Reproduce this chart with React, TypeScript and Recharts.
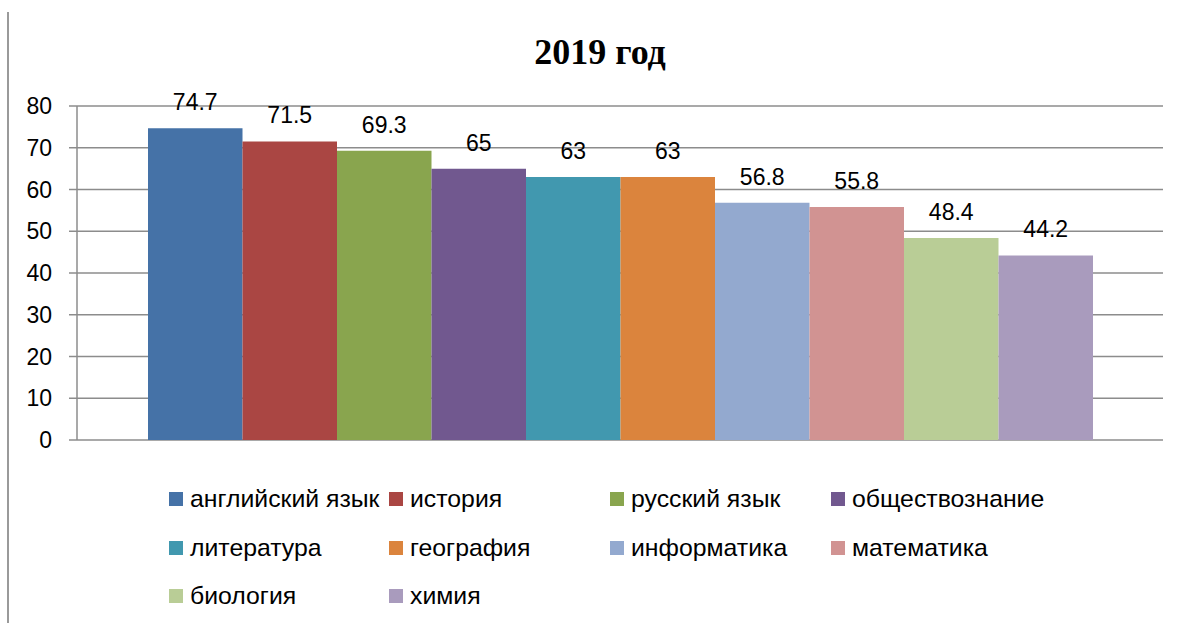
import {
  BarChart,
  Bar,
  XAxis,
  YAxis,
  CartesianGrid,
  LabelList,
} from "recharts";

const title = "2019 год";
const subjects = [
  "английский язык",
  "история",
  "русский язык",
  "обществознание",
  "литература",
  "география",
  "информатика",
  "математика",
  "биология",
  "химия",
];
const scores = [74.7, 71.5, 69.3, 65, 63, 63, 56.8, 55.8, 48.4, 44.2];
const colors = [
  "#4572A7",
  "#AA4643",
  "#89A54E",
  "#71588F",
  "#4198AF",
  "#DB843D",
  "#93A9CF",
  "#D19392",
  "#B9CD96",
  "#A99BBD",
];
const yTicks = [0, 10, 20, 30, 40, 50, 60, 70, 80];

const FONT = "'Liberation Sans', Arial, sans-serif";
const GRID = "#8c8c8c";

// one category, one key per subject
const row: Record<string, string | number> = { name: "2019" };
subjects.forEach((_, i) => {
  row[`s${i}`] = scores[i];
});
const data = [row];

const legendCols = [169, 389, 610, 831];
const legendRows = [499, 548, 596];

function ChartLegend() {
  return (
    <>
      {subjects.map((name, i) => (
        <div
          key={name}
          style={{
            position: "absolute",
            left: legendCols[i % 4],
            top: legendRows[Math.floor(i / 4)] - 15,
            height: 30,
            display: "flex",
            alignItems: "center",
            fontFamily: FONT,
            fontSize: 24.8,
            color: "#000",
            whiteSpace: "nowrap",
          }}
        >
          <span
            style={{
              width: 14,
              height: 14,
              background: colors[i],
              marginRight: 7,
              display: "inline-block",
            }}
          />
          {name}
        </div>
      ))}
    </>
  );
}

export default function App() {
  return (
    <div
      style={{
        position: "absolute",
        left: 0,
        top: 0,
        width: 1180,
        height: 623,
        background: "#fff",
        overflow: "hidden",
      }}
    >
      <div
        style={{
          position: "absolute",
          left: 7,
          top: 12,
          width: 2,
          height: 640,
          background: "#9a9a9a",
        }}
      />
      <div
        style={{
          position: "absolute",
          left: 0,
          top: 30,
          width: 1200,
          textAlign: "center",
          fontFamily: "'Liberation Serif', 'Times New Roman', serif",
          fontWeight: "bold",
          fontSize: 36,
          lineHeight: "44px",
          color: "#000",
        }}
      >
        {title}
      </div>
      <div style={{ position: "absolute", left: 0, top: 0 }}>
        <BarChart
          width={1180}
          height={460}
          data={data}
          margin={{ top: 106, right: 17, left: 0, bottom: 10 }}
          barSize={94.5}
          barGap={0}
        >
          <CartesianGrid
            horizontal
            vertical={false}
            stroke={GRID}
            strokeWidth={1.5}
          />
          <XAxis dataKey="name" hide />
          <XAxis
            xAxisId="num"
            type="number"
            domain={[0, 1]}
            ticks={[0, 1]}
            height={10}
            tickSize={8}
            tickFormatter={() => ""}
            axisLine={{ stroke: GRID, strokeWidth: 1.5 }}
            tickLine={{ stroke: GRID, strokeWidth: 1.5 }}
          />
          <YAxis
            width={77}
            domain={[0, 80]}
            ticks={yTicks}
            interval={0}
            tickSize={8}
            tickMargin={17}
            axisLine={{ stroke: GRID, strokeWidth: 1.5 }}
            tickLine={{ stroke: GRID, strokeWidth: 1.5 }}
            tick={{ fill: "#000", fontSize: 23, fontFamily: FONT }}
          />
          {subjects.map((name, i) => (
            <Bar
              key={name}
              dataKey={`s${i}`}
              name={name}
              fill={colors[i]}
              isAnimationActive={false}
            >
              <LabelList
                dataKey={`s${i}`}
                position="top"
                offset={18}
                fill="#000"
                fontSize={23}
                fontFamily={FONT}
              />
            </Bar>
          ))}
        </BarChart>
      </div>
      <ChartLegend />
    </div>
  );
}
